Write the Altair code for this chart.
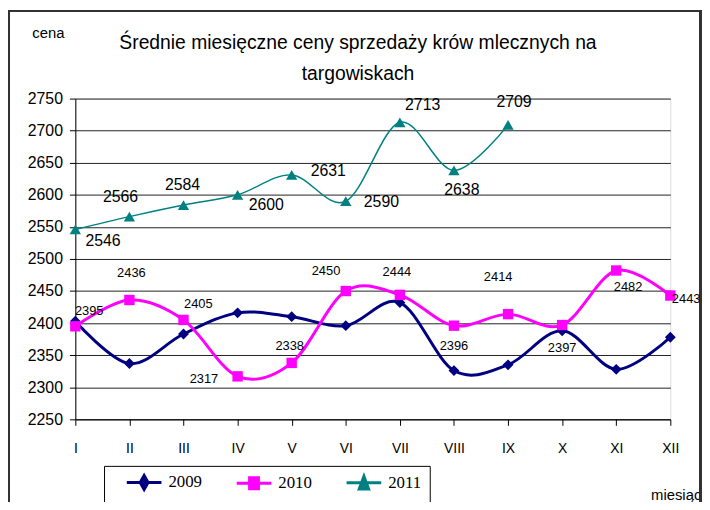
import altair as alt
import pandas as pd

# ---------------- data ----------------
months = ["I", "II", "III", "IV", "V", "VI", "VII", "VIII", "IX", "X", "XI", "XII"]
series_names = ["2009", "2010", "2011"]
v2009 = [2403, 2337, 2383, 2416, 2410, 2396, 2432, 2326, 2335, 2388, 2328, 2378]
v2010 = [2395, 2436, 2405, 2317, 2338, 2450, 2444, 2396, 2414, 2397, 2482, 2443]
v2011 = [2546, 2566, 2584, 2600, 2631, 2590, 2713, 2638, 2709]
y_ticks = [2250, 2300, 2350, 2400, 2450, 2500, 2550, 2600, 2650, 2700, 2750]

title_lines = ["Średnie miesięczne ceny sprzedaży krów  mlecznych na", "targowiskach"]
y_title = "cena"
x_title = "miesiąc"

# ---------------- styles ----------------
colors = {"2009": "#000080", "2010": "#FF00FF", "2011": "#008080"}
shapes = {"2009": "diamond", "2010": "square", "2011": "triangle-up"}
widths = {"2009": 3, "2010": 3, "2011": 1.5}
sizes = {"2009": 120, "2010": 110, "2011": 130}

# label placement (pixel offsets from each point), 2009 has no labels
label_offsets = {
    "2010": [(14, -15), (2, -27), (15, -16), (-34, 3), (-2, -17), (-20, -20),
             (-3, -23), (0, 21), (-10, -37), (0, 23), (12, 17), (16, 4)],
    "2011": [(28, 12), (-9, -20), (-1, -20), (29, 10), (37, -4), (36, 1),
             (23, -17), (8, 20), (6, -23)],
}
label_font = {"2010": ("Liberation Sans", 13), "2011": ("Liberation Sans", 16)}

# legend symbol paths: a line with the marker in the middle
legend_paths = [
    "M-2.5,0H2.5M-0.57,0L0,-1L0.57,0L0,1Z",
    "M-2.5,0H2.5M-0.64,-0.79H0.64V0.79H-0.64Z",
    "M-2.5,0H2.5M0,-0.95L0.68,0.9L-0.68,0.9Z",
]

rows = []
for name, vals in zip(series_names, [v2009, v2010, v2011]):
    for m, v in zip(months, vals):
        rows.append({"month": m, "value": v, "series": name, "label": str(v)})
df = pd.DataFrame(rows)

x_enc = alt.X(
    "month:O",
    sort=months,
    scale=alt.Scale(type="point", domain=months, padding=0),
    axis=alt.Axis(
        title=x_title, titleX=581, titleY=76, titleAlign="left", titleBaseline="middle",
        titleFont="Liberation Sans", titleFontSize=15, titleFontWeight="normal", titleColor="black",
        labelFont="Liberation Sans", labelFontSize=14, labelColor="black", labelPadding=16,
        labelAngle=0, tickSize=6, tickColor="black", domainColor="black", grid=False,
    ),
)
y_enc = alt.Y(
    "value:Q",
    scale=alt.Scale(domain=[2250, 2750], nice=False, zero=False),
    axis=alt.Axis(
        values=y_ticks, format="d", title=y_title, titleAngle=0, titleX=-44, titleY=-67, titleAlign="left",
        titleBaseline="middle", titleFont="Liberation Sans", titleFontSize=15, titleFontWeight="normal",
        titleColor="black", labelFont="Liberation Sans", labelFontSize=16, labelColor="black",
        labelPadding=7, tickSize=6, tickColor="black", domainColor="black",
        grid=True, gridColor="#222222", gridWidth=1,
    ),
)

base = alt.Chart(df)
layers = []

# outer frame (decoration)
frame = base.mark_rule(color="#333333", strokeWidth=1.5)
layers.append(frame.encode(x=alt.value(-67), y=alt.value(-89), y2=alt.value(420)))
layers.append(frame.encode(x=alt.value(631.5), y=alt.value(-89), y2=alt.value(420)))
layers.append(frame.encode(x=alt.value(-67), x2=alt.value(631.5), y=alt.value(-88.5)))

for name in series_names:
    sub = base.transform_filter(alt.datum.series == name)
    layers.append(
        sub.mark_line(color=colors[name], strokeWidth=widths[name], interpolate="cardinal")
        .encode(x=x_enc, y=y_enc)
    )
    layers.append(
        sub.mark_point(shape=shapes[name], filled=True, size=sizes[name], color=colors[name], opacity=1)
        .encode(x=x_enc, y=y_enc)
    )

for name, offs in label_offsets.items():
    font, fsize = label_font[name]
    for m, (dx, dy) in zip(months, offs):
        layers.append(
            base.transform_filter((alt.datum.series == name) & (alt.datum.month == m))
            .mark_text(dx=dx, dy=dy, font=font, fontSize=fsize, color="black",
                       align="center", baseline="middle")
            .encode(x=x_enc, y=y_enc, text="label:N")
        )

# legend (built from an empty copy of the data)
legend_layer = (
    base.transform_filter("false")
    .mark_point(filled=True, opacity=1)
    .encode(
        shape=alt.Shape(
            "series:N",
            scale=alt.Scale(domain=series_names, range=legend_paths),
            legend=alt.Legend(
                title=None, orient="none", legendX=29, legendY=371, direction="horizontal",
                strokeColor="black", padding=8, symbolSize=196, symbolOffset=24,
                labelOffset=16, columnPadding=20, labelFont="Liberation Serif",
                labelFontSize=17, labelColor="black", fillColor="white",
            ),
        ),
        fill=alt.Fill("series:N", scale=alt.Scale(domain=series_names, range=[colors[s] for s in series_names])),
        stroke=alt.Stroke("series:N", scale=alt.Scale(domain=series_names, range=[colors[s] for s in series_names])),
        strokeWidth=alt.StrokeWidth("series:N", scale=alt.Scale(domain=series_names, range=[widths[s] for s in series_names])),
    )
)
layers.append(legend_layer)

chart = (
    alt.layer(*layers)
    .properties(
        width=601,
        height=324,
        padding={"left": 68, "top": 89, "right": 32, "bottom": 81},
        autosize=alt.AutoSizeParams(type="none"),
        title=alt.TitleParams(
            text=title_lines, font="Liberation Sans", fontSize=19.5, fontWeight="normal",
            color="black", anchor="middle", dx=-15, offset=-75, lineHeight=31,
        ),
    )
    .configure_view(stroke="#999999", strokeWidth=1.5)
    .configure(background="white")
)

chart.save("out.html", embed_options={"renderer": "svg", "actions": False})
